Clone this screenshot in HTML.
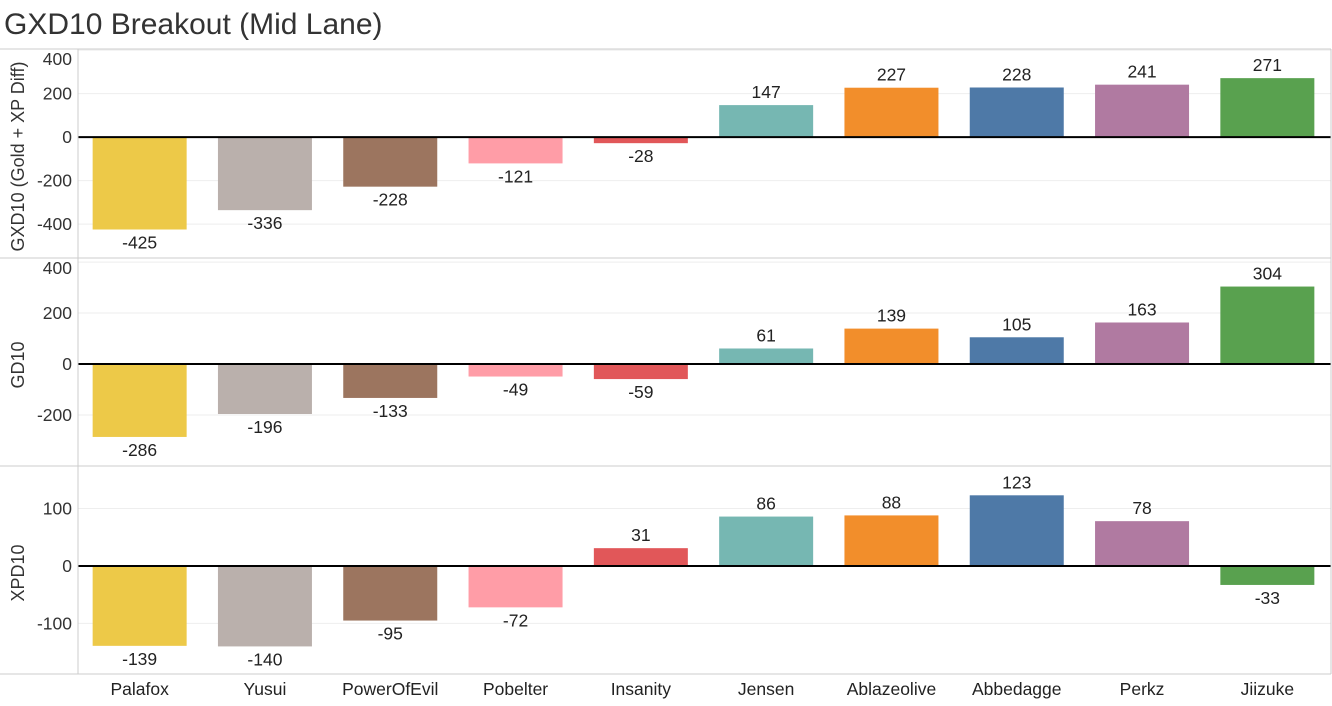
<!DOCTYPE html>
<html><head><meta charset="utf-8"><style>
body{margin:0;background:#fff;font-family:"Liberation Sans",Arial,sans-serif;}
svg text{font-family:"Liberation Sans",Arial,sans-serif;}
</style></head><body>
<svg id="c" width="1332" height="701">
<text x="4" y="34" font-size="30" fill="#333">GXD10 Breakout (Mid Lane)</text>
</svg>
<script>
const categories=["Palafox","Yusui","PowerOfEvil","Pobelter","Insanity","Jensen","Ablazeolive","Abbedagge","Perkz","Jiizuke"];
const gxd10=[-425,-336,-228,-121,-28,147,227,228,241,271];
const gd10=[-286,-196,-133,-49,-59,61,139,105,163,304];
const xpd10=[-139,-140,-95,-72,31,86,88,123,78,-33];
const colors=["#EDC948","#BAB0AC","#9C755F","#FF9DA7","#E15759","#76B7B2","#F28E2B","#4E79A7","#B07AA1","#59A14F"];
const panels=[
 {name:"gxd10",title:"GXD10 (Gold + XP Diff)",vals:gxd10,top:49,bot:258,max:405,min:-556,ticks:[400,200,0,-200,-400]},
 {name:"gd10",title:"GD10",vals:gd10,top:258,bot:466,max:416,min:-400,ticks:[400,200,0,-200]},
 {name:"xpd10",title:"XPD10",vals:xpd10,top:466,bot:674,max:174,min:-188,ticks:[100,0,-100]}
];
const svg=document.getElementById('c');const NS="http://www.w3.org/2000/svg";
function mk(t,a,p){const e=document.createElementNS(NS,t);for(const k in a)e.setAttribute(k,a[k]);(p||svg).appendChild(e);return e;}
const L=78,R=1331,cw=(R-L)/categories.length,bw=94;
const xc=i=>L+cw*(i+0.5)-1;
panels.forEach(p=>{
 const y=v=>p.top+(p.max-v)/(p.max-p.min)*(p.bot-p.top);
 const g=mk('g',{});
 
 
 p.ticks.forEach(t=>{
  if(t!==0){const gl=mk('line',{x1:L,x2:R,y1:y(t),y2:y(t),stroke:'#eee','stroke-width':1},g);
  }
  let ty=Math.max(y(t)+6,p.top+16);
  const tl=mk('text',{x:72,y:ty,'text-anchor':'end','font-size':17.5,fill:'#333'},g);tl.textContent=t;
  
 });
 const at=mk('text',{transform:`translate(24,${(p.top+p.bot)/2+3}) rotate(-90)`,'text-anchor':'middle','font-size':18,fill:'#333'},g);
 at.textContent=p.title;
 
 p.vals.forEach((v,i)=>{
  const y0=y(0),y1=y(v);
  const b=mk('rect',{x:xc(i)-bw/2,y:Math.min(y0,y1),width:bw,height:Math.abs(y1-y0),fill:colors[i]},g);
  
  
  const lt=mk('text',{x:xc(i),y:v>=0?y1-7:y1+19,'text-anchor':'middle','font-size':17.5,fill:'#222'},g);
  lt.textContent=v;
  
 });
 const z=mk('line',{x1:L,x2:R,y1:y(0),y2:y(0),stroke:'#000','stroke-width':2},g);
 
 const bl=mk('line',{x1:0,x2:R,y1:p.bot,y2:p.bot,stroke:'#ccc','stroke-width':1},g);
 
});
const tb=mk('line',{x1:0,x2:R,y1:49,y2:49,stroke:'#ccc'});

const ax=mk('line',{x1:L,x2:L,y1:49,y2:674,stroke:'#ccc'});

const rb=mk('line',{x1:R,x2:R,y1:49,y2:674,stroke:'#ccc'});

categories.forEach((c,i)=>{
 const t=mk('text',{x:xc(i),y:695,'text-anchor':'middle','font-size':17.5,fill:'#222'});
 t.textContent=c;
 
});
</script>
</body></html>
